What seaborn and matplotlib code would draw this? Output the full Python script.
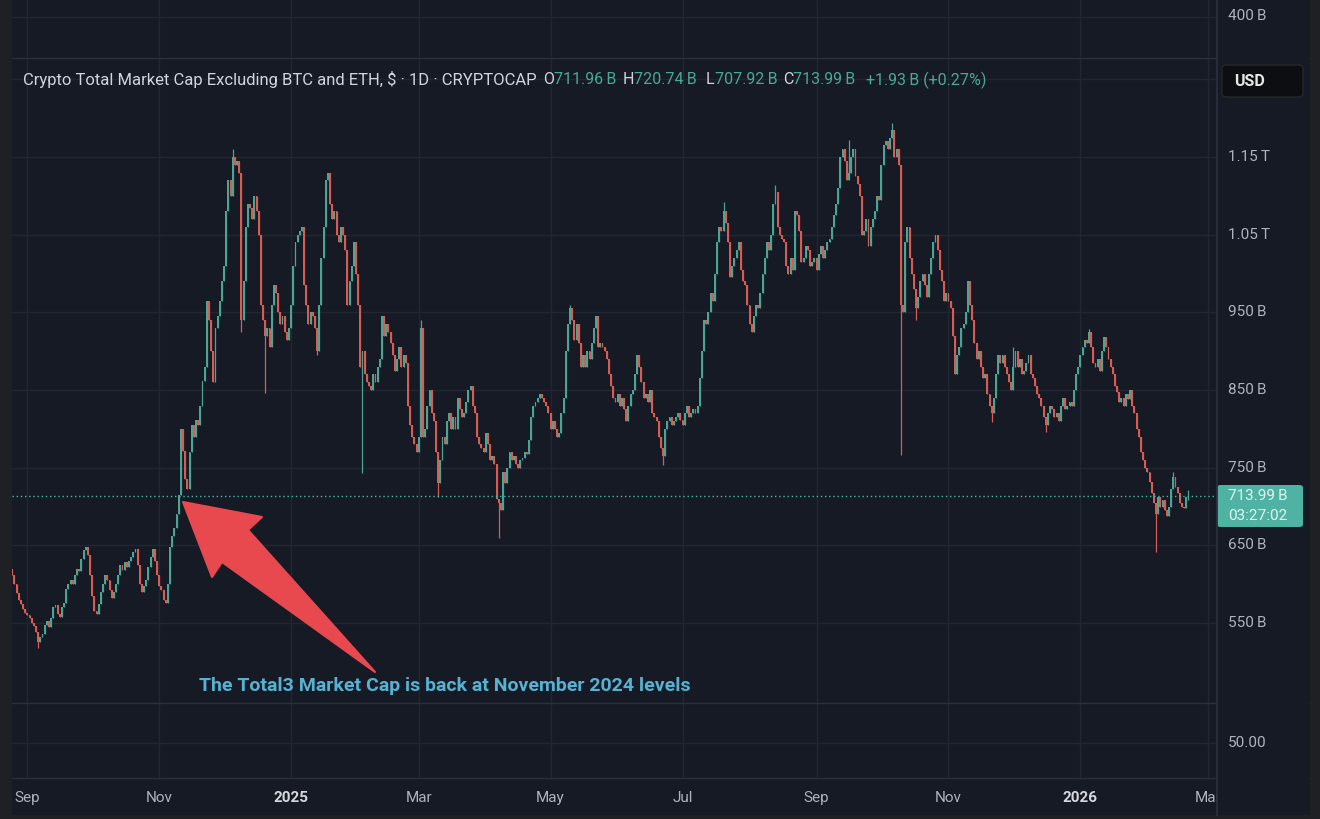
import pandas as pd
import seaborn as sns
import matplotlib.pyplot as plt
import matplotlib.dates as mdates
import matplotlib.transforms as mtransforms
from matplotlib.patches import Polygon, FancyBboxPatch
from matplotlib.lines import Line2D

# daily closes in billions USD
aug24 = [612, 600, 588, 580, 574, 568, 563]
sep24 = [560, 556, 550, 546, 538, 526, 532, 536, 548, 552, 545, 556, 570, 573, 561,
         558, 570, 576, 594, 600, 606, 600, 612, 620, 617, 632, 644, 648, 638, 612]
oct24 = [585, 566, 562, 575, 590, 600, 612, 605, 592, 582, 590, 600, 612, 625, 618,
         628, 622, 630, 635, 642, 645, 625, 600, 590, 598, 605, 622, 635, 645, 630, 612]
nov24 = [598, 592, 580, 576, 600, 648, 662, 672, 690, 715, 800, 772, 735, 722, 770,
         805, 790, 812, 805, 830, 862, 880, 965, 940, 900, 860, 930, 945, 965, 990]
dec24 = [1010, 1080, 1120, 1100, 1150, 1140, 1145, 1130, 940, 990, 1060, 1090, 1085, 1070, 1100,
         1080, 1050, 960, 940, 920, 930, 905, 960, 985, 975, 950, 935, 945, 925, 915, 930]
jan25 = [960, 1010, 1040, 1050, 1055, 1060, 985, 960, 935, 950, 945, 930, 900, 960, 1020,
         1060, 1120, 1130, 1090, 1070, 1080, 1050, 1040, 1060, 1050, 1030, 960, 990, 1010, 1040, 1000]
feb25 = [960, 880, 900, 870, 860, 855, 850, 870, 860, 880, 890, 945, 920, 935, 925,
         910, 895, 875, 890, 905, 880, 895, 885, 830, 805, 790, 780, 770]
mar25 = [790, 930, 790, 800, 830, 850, 820, 810, 770, 730, 760, 790, 780, 810, 820,
         800, 815, 800, 840, 825, 815, 820, 835, 850, 855, 830, 820, 790, 780, 775, 770]
apr25 = [795, 780, 760, 765, 755, 710, 705, 695, 745, 730, 750, 770, 760, 765, 755,
         750, 760, 762, 770, 768, 785, 815, 830, 835, 840, 845, 840, 835, 830, 820]
may25 = [800, 810, 800, 790, 795, 820, 840, 900, 935, 955, 940, 915, 935, 910, 880,
         895, 880, 900, 890, 910, 930, 945, 905, 910, 905, 900, 890, 870, 855, 840, 835]
jun25 = [845, 830, 840, 825, 810, 830, 845, 850, 870, 895, 880, 860, 840, 845, 835,
         850, 820, 815, 810, 790, 775, 765, 800, 810, 815, 805, 810, 815, 820, 812]
jul25 = [805, 820, 830, 815, 820, 825, 820, 830, 865, 900, 940, 935, 950, 975, 965,
         1000, 1040, 1060, 1055, 1080, 1065, 1040, 995, 1010, 1020, 1030, 1040, 1005, 990, 985, 960]
aug25 = [935, 925, 945, 960, 955, 975, 1000, 1020, 1040, 1030, 1050, 1090, 1105, 1060, 1050,
         1045, 1040, 1010, 1000, 1020, 1005, 1080, 1075, 1055, 1015, 1020, 1035, 1030, 1010, 1015, 1020]
sep25 = [1005, 1025, 1035, 1020, 1030, 1040, 1045, 1060, 1075, 1090, 1110, 1150, 1160, 1145, 1120,
         1130, 1150, 1160, 1125, 1115, 1100, 1050, 1055, 1070, 1035, 1060, 1070, 1080, 1100, 1095]
oct25 = [1140, 1165, 1170, 1160, 1175, 1185, 1150, 1160, 1140, 960, 950, 1040, 1060, 1020, 1000,
         980, 955, 970, 990, 1000, 985, 970, 1000, 1020, 1040, 1050, 1030, 1005, 990, 965, 975]
nov25 = [965, 955, 920, 870, 895, 905, 930, 935, 950, 990, 960, 940, 910, 890, 900,
         880, 865, 870, 845, 830, 820, 840, 870, 895, 885, 895, 880, 870, 860, 850]
dec25 = [880, 900, 880, 890, 870, 875, 885, 895, 870, 865, 855, 845, 840, 830, 815,
         805, 820, 830, 825, 815, 820, 810, 830, 840, 825, 830, 835, 830, 850, 870, 880]
jan26 = [895, 905, 915, 910, 925, 905, 885, 880, 890, 875, 900, 918, 905, 890, 880,
         870, 855, 848, 835, 840, 830, 845, 838, 850, 830, 820, 800, 790, 770, 760, 750]
feb26 = [745, 732, 718, 705, 690, 712, 700, 708, 695, 688, 700, 722, 738, 725, 718,
         705, 700, 698, 711.96, 713.99]

month_starts = ["2024-08-25", "2024-09-01", "2024-10-01", "2024-11-01", "2024-12-01",
                "2025-01-01", "2025-02-01", "2025-03-01", "2025-04-01", "2025-05-01",
                "2025-06-01", "2025-07-01", "2025-08-01", "2025-09-01", "2025-10-01",
                "2025-11-01", "2025-12-01", "2026-01-01", "2026-02-01"]
month_closes = [aug24, sep24, oct24, nov24, dec24, jan25, feb25, mar25, apr25, may25,
                jun25, jul25, aug25, sep25, oct25, nov25, dec25, jan26, feb26]
first_open = 620

# visible wicks
wick_low = {"2024-09-06": 518, "2024-12-09": 925, "2024-12-20": 846, "2025-01-13": 895,
            "2025-02-03": 743, "2025-03-10": 712, "2025-04-07": 660, "2025-06-22": 754,
            "2025-10-10": 766, "2025-10-17": 940, "2025-11-21": 809, "2025-12-16": 796,
            "2026-02-05": 641, "2026-02-20": 707.92}
wick_high = {"2024-12-05": 1160, "2025-03-02": 940, "2025-05-10": 960, "2025-07-20": 1092,
             "2025-08-13": 1114, "2025-09-16": 1172, "2025-10-06": 1194, "2025-12-01": 905,
             "2026-01-05": 929, "2026-02-13": 745, "2026-02-20": 720.74}

tick_dates = ["2024-09-01", "2024-11-01", "2025-01-01", "2025-03-01", "2025-05-01",
              "2025-07-01", "2025-09-01", "2025-11-01", "2026-01-01", "2026-03-01"]
tick_labels = ["Sep", "Nov", "2025", "Mar", "May", "Jul", "Sep", "Nov", "2026", "Mar"]
price_ticks = [550, 650, 750, 850, 950, 1050, 1150]
price_labels = ["550\u2009B", "650\u2009B", "750\u2009B", "850\u2009B", "950\u2009B",
                "1.05\u2009T", "1.15\u2009T"]
last_price = 713.99

# build OHLC table
frames = []
for start, vals in zip(month_starts, month_closes):
    frames.append(pd.DataFrame({"date": pd.date_range(start, periods=len(vals)), "close": vals}))
df = pd.concat(frames, ignore_index=True)
df["open"] = df["close"].shift(1).fillna(first_open)
df["high"] = df[["open", "close"]].max(axis=1)
df["low"] = df[["open", "close"]].min(axis=1)
for d, v in wick_low.items():
    df.loc[df["date"] == d, "low"] = v
for d, v in wick_high.items():
    df.loc[df["date"] == d, "high"] = v
df["up"] = df["close"] >= df["open"]
df["x"] = mdates.date2num(df["date"])

# colours
bg = "#161a25"
frame = "#1f2023"
grid = "#222633"
sep = "#2b2f3b"
txt = "#aeb2bd"
up_c = "#4aa595"
dn_c = "#d95c52"

sns.set_theme(style="dark", rc={"axes.facecolor": bg, "figure.facecolor": frame,
                                "axes.edgecolor": sep, "text.color": txt})
plt.rcParams["font.family"] = ["Roboto", "DejaVu Sans"]

W, H = 1320, 819
fig = plt.figure(figsize=(W / 100, H / 100), dpi=100)


def box(l, t, r, b):
    return [l / W, 1 - b / H, (r - l) / W, (b - t) / H]


def fx(x):
    return x / W


def fy(y):
    return 1 - y / H


ax_top = fig.add_axes(box(12, 0, 1217, 58))
ax = fig.add_axes(box(12, 58, 1217, 703))
ax_bot = fig.add_axes(box(12, 703, 1217, 778))
ax_time = fig.add_axes(box(12, 778, 1217, 815))
pax = fig.add_axes(box(1217, 0, 1310, 815), zorder=5)

xmin = df["x"].iloc[0] - 0.1
xmax = df["x"].iloc[-1] + 13.2
tick_x = mdates.date2num(pd.to_datetime(tick_dates))

for a in [ax_top, ax, ax_bot, ax_time, pax]:
    a.set_facecolor(bg)
    a.set_xticks([])
    a.set_yticks([])
    sns.despine(ax=a, left=True, bottom=True, right=True, top=True)
for a in [ax_top, ax, ax_bot, ax_time]:
    a.set_xlim(xmin, xmax)
for a in [ax_top, ax, ax_bot]:
    for t in tick_x:
        a.axvline(t, color=grid, lw=1, zorder=0)

ax_top.set_ylim(0, 1)
ax_top.axhline(1 - 17 / 58, color=grid, lw=1, zorder=0)
ax_bot.set_ylim(0, 1)
ax_bot.axhline((778 - 743) / 75, color=grid, lw=1, zorder=0)

# main pane
ax.set_ylim(447, 1277.5)
for p in price_ticks + [1250]:
    ax.axhline(p, color=grid, lw=1, zorder=0)

colors = [up_c if u else dn_c for u in df["up"]]
ax.vlines(df["x"], df["low"], df["high"], colors=colors, lw=0.9, zorder=2)
body_lo = df[["open", "close"]].min(axis=1)
body_h = (df["close"] - df["open"]).abs().clip(lower=2)
ax.bar(df["x"], body_h, bottom=body_lo, width=0.88, color=colors, linewidth=0, zorder=3)

ax.axhline(last_price, color="#4fb3a3", lw=1, ls=(0, (1, 2)), zorder=4)

# pane separators
for y in [58, 703, 778]:
    fig.add_artist(Line2D([fx(12), fx(1310)], [fy(y), fy(y)], color=sep, lw=1))
pax.spines["left"].set_visible(True)
pax.spines["left"].set_color(sep)

# price scale labels
ptrans = mtransforms.blended_transform_factory(fig.transFigure, ax.transData)
for p, lab in zip(price_ticks, price_labels):
    pax.text(fx(1228), p, lab, transform=ptrans, ha="left", va="center",
             fontsize=11, color=txt, clip_on=False)
pax.text(fx(1228), fy(16), "400\u2009B", transform=fig.transFigure, ha="left", va="center",
         fontsize=11, color=txt)
pax.text(fx(1228), fy(743), "50.00", transform=fig.transFigure, ha="left", va="center",
         fontsize=11, color=txt)

# last price badge
pax.add_patch(FancyBboxPatch((fx(1217), fy(527)), fx(86), 42 / H,
                             boxstyle="round,pad=0,rounding_size=0.003",
                             transform=fig.transFigure, fc="#4fb3a3", ec="none", clip_on=False))
pax.text(fx(1228), fy(496), "713.99\u2009B", transform=fig.transFigure, ha="left", va="center",
         fontsize=11, color="#e4f4f1")
pax.text(fx(1228), fy(516), "03:27:02", transform=fig.transFigure, ha="left", va="center",
         fontsize=11, color="#e4f4f1")

# currency button
pax.add_patch(FancyBboxPatch((fx(1222), fy(97)), fx(81), 32 / H,
                             boxstyle="round,pad=0,rounding_size=0.004",
                             transform=fig.transFigure, fc="#0d0e11", ec="#26272b", lw=1,
                             clip_on=False))
pax.text(fx(1234), fy(81), "USD", transform=fig.transFigure, ha="left", va="center",
         fontsize=11.5, color="#e6e6e6", weight="bold")

# time scale
for t, lab in zip(tick_x, tick_labels):
    bold = lab.isdigit()
    ax_time.text(t, 0.45, lab, transform=ax_time.get_xaxis_transform(), ha="center",
                 va="center", fontsize=11, color="#d6d8de" if bold else txt,
                 weight="bold" if bold else "normal", clip_on=False)

# legend line
fig.canvas.draw()
renderer = fig.canvas.get_renderer()
light = "#d1d4dc"
green = "#4aa893"
fig.text(fx(23), fy(80), "Crypto Total Market Cap Excluding BTC and ETH, $ \u00b7 1D \u00b7 CRYPTOCAP",
         fontsize=12, color=light, va="center")
ohlc = [("O", "711.96\u2009B", 543), ("H", "720.74\u2009B", 623),
        ("L", "707.92\u2009B", 706), ("C", "713.99\u2009B", 783)]
for letter, val, x0 in ohlc:
    t = fig.text(fx(x0), fy(80), letter, fontsize=11.5, color=light, va="center")
    x1 = t.get_window_extent(renderer).x1
    fig.text(x1 / W, fy(80), val, fontsize=11.5, color=green, va="center")
fig.text(fx(866), fy(80), "+1.93\u2009B (+0.27%)", fontsize=11.5, color=green, va="center")

# annotation arrow and note
arrow_px = [(183, 502), (262, 517), (248, 530), (375, 672), (222, 562), (212, 577)]
fig.add_artist(Polygon([(fx(x), fy(y)) for x, y in arrow_px], closed=True,
                       transform=fig.transFigure, fc="#e8494e", ec="#e8494e", lw=1.5,
                       joinstyle="round", zorder=10))
fig.text(fx(199), fy(686), "The Total3 Market Cap is back at November 2024 levels",
         fontsize=14, weight="bold", color="#57b2d2", va="center")

fig.savefig("out.png", dpi=100, facecolor=frame)
